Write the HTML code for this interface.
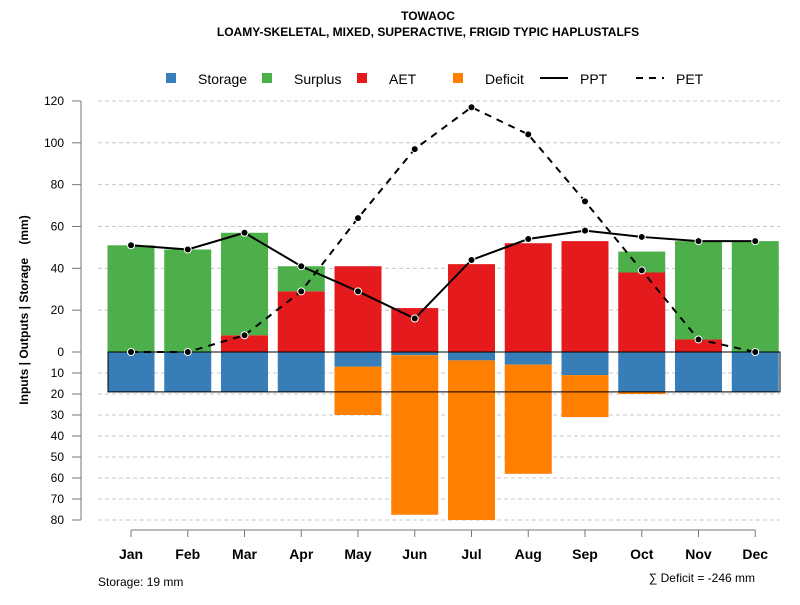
<!DOCTYPE html>
<html><head><meta charset="utf-8"><style>
body{margin:0;background:#fff;}
svg{font-family:"Liberation Sans",sans-serif;}
</style></head><body>
<svg id="c" width="800" height="600" xmlns="http://www.w3.org/2000/svg">
<text x="428" y="20" text-anchor="middle" font-size="12" font-weight="bold">TOWAOC</text>
<text x="428" y="36" text-anchor="middle" font-size="12" font-weight="bold">LOAMY-SKELETAL, MIXED, SUPERACTIVE, FRIGID TYPIC HAPLUSTALFS</text>
<g id="legend" font-size="14">
<rect x="166" y="73" width="10" height="10" fill="#377eb8"/>
<text x="198" y="84">Storage</text>
<rect x="262" y="73" width="10" height="10" fill="#4daf4a"/>
<text x="294" y="84">Surplus</text>
<rect x="357" y="73" width="10" height="10" fill="#e41a1c"/>
<text x="389" y="84">AET</text>
<rect x="453" y="73" width="10" height="10" fill="#ff7f00"/>
<text x="485" y="84">Deficit</text>
<line x1="540" y1="78" x2="568" y2="78" stroke="#000" stroke-width="2"/>
<text x="580" y="84">PPT</text>
<line x1="636" y1="78" x2="664" y2="78" stroke="#000" stroke-width="2" stroke-dasharray="7,6"/>
<text x="676" y="84">PET</text>
</g>
<g id="grid"></g><g id="bars"></g><g id="lines"></g><g id="axes"></g>
<text transform="translate(28,310) rotate(-90)" text-anchor="middle" font-size="12" font-weight="bold" style="white-space:pre">Inputs | Outputs | Storage    (mm)</text>
<text x="98" y="586" font-size="12">Storage: 19 mm</text>
<text x="755" y="582" text-anchor="end" font-size="12">∑ Deficit = -246 mm</text>
</svg>
<script>
const months=["Jan","Feb","Mar","Apr","May","Jun","Jul","Aug","Sep","Oct","Nov","Dec"];
const ppt=[51,49,57,41,29,16,44,54,58,55,53,53];
const pet=[0,0,8,29,64,97,117,104,72,39,6,0];
const aet=[0,0,8,29,41,21,42,52,53,38,6,0];
const surplus=[51,49,49,12,0,0,0,0,0,10,47,53];
const storage=[19,19,19,19,7,1.5,4,6,11,19,19,19];
const deficit=[0,0,0,0,23,76,76,52,20,1,0,0];
const upTicks=[0,20,40,60,80,100,120];
const downTicks=[10,20,30,40,50,60,70,80];
const capacity=19;
const NS="http://www.w3.org/2000/svg";
const X=i=>131+i*56.75;
const Y=v=>352-v*2.092;
const YD=v=>352+v*2.1;
function mk(p,t,a){const e=document.createElementNS(NS,t);for(const k in a)e.setAttribute(k,a[k]);document.getElementById(p).appendChild(e);return e;}
const ticks=[...upTicks.map(v=>[v,Y(v)]),...downTicks.map(v=>[v,YD(v)])];
ticks.forEach(([v,y])=>{
 if(v!==0){const g=mk("grid","line",{x1:98,x2:780,y1:y,y2:y,stroke:"#c8c8c8","stroke-dasharray":"4,3"});
 
 }
 const t=mk("axes","line",{x1:72,x2:81,y1:y,y2:y,stroke:"#777"});
 
 
 const l=mk("axes","text",{x:64,y:y+4,"text-anchor":"end","font-size":12});
 l.textContent=v;
 
 
});
const ya=mk("axes","line",{x1:81,x2:81,y1:Y(120),y2:YD(80),stroke:"#777"});


const xa=mk("axes","line",{x1:X(0),x2:X(11),y1:530,y2:530,stroke:"#777"});


const bw=47;
months.forEach((m,i)=>{
 const x=X(i)-bw/2;
 let r=mk("bars","rect",{x:x,y:Y(aet[i]),width:bw,height:Y(0)-Y(aet[i]),fill:"#e41a1c"});
 
 
 r=mk("bars","rect",{x:x,y:Y(aet[i]+surplus[i]),width:bw,height:Y(aet[i])-Y(aet[i]+surplus[i]),fill:"#4daf4a"});
 
 
 r=mk("bars","rect",{x:x,y:YD(0),width:bw,height:YD(storage[i])-YD(0),fill:"#377eb8"});
 
 
 r=mk("bars","rect",{x:x,y:YD(storage[i]),width:bw,height:YD(storage[i]+deficit[i])-YD(storage[i]),fill:"#ff7f00"});
 
 
 const t=mk("axes","line",{x1:X(i),x2:X(i),y1:530,y2:537,stroke:"#777"});
 
 
 const l=mk("axes","text",{x:X(i),y:559,"text-anchor":"middle","font-size":14,"font-weight":"bold"});
 l.textContent=m;
 
 
});
const box=mk("bars","rect",{x:108,y:YD(0),width:672,height:YD(capacity)-YD(0),fill:"none",stroke:"#000","stroke-width":1});


function series(arr,name,dash){
 const p=mk("lines","polyline",{points:arr.map((v,i)=>X(i)+","+Y(v)).join(" "),fill:"none",stroke:"#000","stroke-width":2,"stroke-dasharray":dash});
 
 
 arr.forEach((v,i)=>{const c=mk("lines","circle",{cx:X(i),cy:Y(v),r:3.5,fill:"#000",stroke:"#fff","stroke-width":1});
 
 });
}
series(pet,"pet","7,6");
series(ppt,"ppt","none");
</script>
</body></html>
